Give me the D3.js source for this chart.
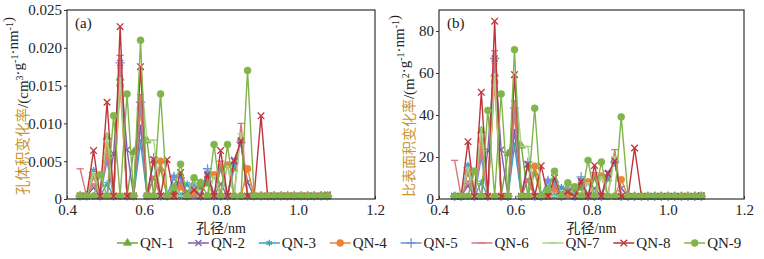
<!DOCTYPE html>
<html lang="en">
<head>
  <meta charset="utf-8" />
  <title>孔径分布</title>
  <script src="https://d3js.org/d3.v7.min.js"></script>
  <style>
    body { margin: 0; background: #fff; }
    text { font-family: "Liberation Serif", "Noto Sans CJK SC", serif; }
  </style>
</head>

<body>
  <div id="chart"></div>

  <script>
    // pore diameter (nm)
    var poreA = [0.434, 0.451, 0.469, 0.486, 0.504, 0.521, 0.538, 0.556, 0.573, 0.591,
                 0.608, 0.625, 0.643, 0.660, 0.678, 0.695, 0.712, 0.730, 0.747, 0.765,
                 0.782, 0.799, 0.817, 0.834, 0.852, 0.869, 0.886, 0.904, 0.921, 0.938,
                 0.956, 0.973, 0.990, 1.008, 1.025, 1.042, 1.060, 1.077];
    var poreB = [0.441, 0.458, 0.476, 0.493, 0.511, 0.528, 0.546, 0.563, 0.581, 0.598,
                 0.616, 0.633, 0.651, 0.668, 0.686, 0.703, 0.721, 0.738, 0.756, 0.773,
                 0.791, 0.808, 0.826, 0.843, 0.861, 0.878, 0.896, 0.913, 0.931, 0.948,
                 0.966, 0.983, 1.001, 1.018, 1.036, 1.053, 1.071, 1.088];

    var names = ["QN-1", "QN-2", "QN-3", "QN-4", "QN-5", "QN-6", "QN-7", "QN-8", "QN-9"];

    // (a) pore volume change rate, cm3/(g*nm)
    var qn1a = [0.0004, 0.0004, 0.0030, 0.0004, 0.0082, 0.0004, 0.0160, 0.0004, 0.0062, 0.0092,
                0.0077, 0.0004, 0.0040, 0.0004, 0.0010, 0.0020, 0.0004, 0.0020, 0.0015, 0.0020,
                0.0004, 0.0040, 0.0004, 0.0040, 0.0080, 0.0004, 0.0004, 0.0004, 0.0004, 0.0004,
                0.0004, 0.0004, 0.0004, 0.0004, 0.0004, 0.0004, 0.0004, 0.0004];
    var qn2a = [0.0004, 0.0004, 0.0015, 0.0004, 0.0004, 0.0060, 0.0180, 0.0065, 0.0004, 0.0097,
                0.0004, 0.0028, 0.0004, 0.0004, 0.0020, 0.0004, 0.0010, 0.0004, 0.0004, 0.0030,
                0.0004, 0.0020, 0.0004, 0.0052, 0.0073, 0.0022, 0.0004, 0.0004, 0.0004, 0.0004,
                0.0004, 0.0004, 0.0004, 0.0004, 0.0004, 0.0004, 0.0004, 0.0006];
    var qn3a = [0.0004, 0.0004, 0.0038, 0.0004, 0.0020, 0.0004, 0.0175, 0.0004, 0.0004, 0.0075,
                0.0004, 0.0050, 0.0004, 0.0004, 0.0030, 0.0004, 0.0020, 0.0004, 0.0004, 0.0035,
                0.0004, 0.0004, 0.0004, 0.0045, 0.0075, 0.0004, 0.0004, 0.0004, 0.0004, 0.0004,
                0.0004, 0.0004, 0.0004, 0.0004, 0.0004, 0.0004, 0.0004, 0.0004];
    var qn4a = [0.0004, 0.0004, 0.0030, 0.0004, 0.0070, 0.0004, 0.0150, 0.0004, 0.0004, 0.0120,
                0.0004, 0.0004, 0.0050, 0.0004, 0.0004, 0.0016, 0.0004, 0.0010, 0.0004, 0.0004,
                0.0032, 0.0004, 0.0045, 0.0004, 0.0004, 0.0040, 0.0004, 0.0004, 0.0004, 0.0004,
                0.0004, 0.0004, 0.0004, 0.0004, 0.0004, 0.0004, 0.0004, 0.0004];
    var qn5a = [0.0004, 0.0004, 0.0035, 0.0004, 0.0050, 0.0004, 0.0180, 0.0004, 0.0004, 0.0128,
                0.0004, 0.0055, 0.0004, 0.0004, 0.0030, 0.0028, 0.0004, 0.0020, 0.0004, 0.0040,
                0.0004, 0.0004, 0.0004, 0.0048, 0.0075, 0.0004, 0.0004, 0.0004, 0.0004, 0.0004,
                0.0004, 0.0004, 0.0004, 0.0004, 0.0004, 0.0004, 0.0004, 0.0004];
    var qn6a = [0.0040, 0.0004, 0.0020, 0.0004, 0.0060, 0.0004, 0.0190, 0.0004, 0.0004, 0.0138,
                0.0004, 0.0030, 0.0004, 0.0004, 0.0004, 0.0020, 0.0004, 0.0004, 0.0004, 0.0030,
                0.0004, 0.0050, 0.0004, 0.0004, 0.0100, 0.0004, 0.0004, 0.0004, 0.0004, 0.0004,
                0.0004, 0.0004, 0.0004, 0.0004, 0.0004, 0.0004, 0.0004, 0.0004];
    var qn7a = [0.0004, 0.0004, 0.0035, 0.0004, 0.0085, 0.0004, 0.0160, 0.0004, 0.0004, 0.0172,
                0.0076, 0.0078, 0.0004, 0.0004, 0.0020, 0.0004, 0.0004, 0.0025, 0.0004, 0.0004,
                0.0030, 0.0004, 0.0043, 0.0004, 0.0086, 0.0004, 0.0004, 0.0004, 0.0004, 0.0004,
                0.0004, 0.0004, 0.0004, 0.0004, 0.0004, 0.0004, 0.0004, 0.0004];
    var qn8a = [0.0004, 0.0004, 0.0064, 0.0004, 0.0128, 0.0004, 0.0228, 0.0004, 0.0004, 0.0175,
                0.0004, 0.0052, 0.0004, 0.0052, 0.0004, 0.0035, 0.0004, 0.0012, 0.0004, 0.0032,
                0.0004, 0.0064, 0.0004, 0.0050, 0.0077, 0.0004, 0.0004, 0.0110, 0.0004, 0.0004,
                0.0004, 0.0004, 0.0004, 0.0004, 0.0004, 0.0004, 0.0004, 0.0004];
    var qn9a = [0.0004, 0.0004, 0.0004, 0.0032, 0.0004, 0.0110, 0.0004, 0.0139, 0.0004, 0.0210,
                0.0004, 0.0004, 0.0139, 0.0004, 0.0015, 0.0046, 0.0004, 0.0028, 0.0022, 0.0004,
                0.0072, 0.0004, 0.0072, 0.0004, 0.0004, 0.0170, 0.0004, 0.0004, 0.0004, 0.0004,
                0.0004, 0.0004, 0.0004, 0.0004, 0.0004, 0.0004, 0.0004, 0.0004];

    // (b) specific surface area change rate, m2/(g*nm)
    var qn1b = [1.3, 1.3, 12.8, 1.3, 32.5, 1.3, 59.5, 1.3, 21.6, 31.1,
                25.3, 1.3, 12.4, 1.3, 3.0, 5.8, 1.3, 5.5, 4.0, 5.2,
                1.3, 10.0, 1.3, 9.6, 18.8, 1.3, 1.3, 1.3, 1.3, 1.3,
                1.3, 1.3, 1.3, 1.3, 1.3, 1.3, 1.3, 1.3];
    var qn2b = [1.3, 1.3, 6.4, 1.3, 1.3, 23.0, 66.9, 23.4, 1.3, 32.8,
                1.3, 9.0, 1.3, 1.3, 5.9, 1.3, 2.8, 1.3, 1.3, 7.8,
                1.3, 5.0, 1.3, 12.5, 17.1, 5.1, 1.3, 1.3, 1.3, 1.3,
                1.3, 1.3, 1.3, 1.3, 1.3, 1.3, 1.3, 1.8];
    var qn3b = [1.3, 1.3, 16.2, 1.3, 7.9, 1.3, 65.0, 1.3, 1.3, 25.4,
                1.3, 16.0, 1.3, 1.3, 8.9, 1.3, 5.6, 1.3, 1.3, 9.1,
                1.3, 1.3, 1.3, 10.8, 17.6, 1.3, 1.3, 1.3, 1.3, 1.3,
                1.3, 1.3, 1.3, 1.3, 1.3, 1.3, 1.3, 1.3];
    var qn4b = [1.3, 1.3, 12.8, 1.3, 27.8, 1.3, 55.8, 1.3, 1.3, 40.6,
                1.3, 1.3, 15.6, 1.3, 1.3, 4.6, 1.3, 2.7, 1.3, 1.3,
                8.2, 1.3, 11.0, 1.3, 1.3, 9.2, 1.3, 1.3, 1.3, 1.3,
                1.3, 1.3, 1.3, 1.3, 1.3, 1.3, 1.3, 1.3];
    var qn5b = [1.3, 1.3, 14.9, 1.3, 19.8, 1.3, 66.9, 1.3, 1.3, 43.3,
                1.3, 17.6, 1.3, 1.3, 8.9, 8.1, 1.3, 5.5, 1.3, 10.5,
                1.3, 1.3, 1.3, 11.5, 17.6, 1.3, 1.3, 1.3, 1.3, 1.3,
                1.3, 1.3, 1.3, 1.3, 1.3, 1.3, 1.3, 1.3];
    var qn6b = [18.4, 1.3, 8.5, 1.3, 23.8, 1.3, 70.6, 1.3, 1.3, 46.7,
                1.3, 9.6, 1.3, 1.3, 1.3, 5.8, 1.3, 1.3, 1.3, 7.8,
                1.3, 12.5, 1.3, 1.3, 23.5, 1.3, 1.3, 1.3, 1.3, 1.3,
                1.3, 1.3, 1.3, 1.3, 1.3, 1.3, 1.3, 1.3];
    var qn7b = [1.3, 1.3, 14.9, 1.3, 33.7, 1.3, 59.5, 1.3, 1.3, 58.2,
                25.0, 25.0, 1.3, 1.3, 5.9, 1.3, 1.3, 6.9, 1.3, 1.3,
                7.7, 1.3, 10.5, 1.3, 20.2, 1.3, 1.3, 1.3, 1.3, 1.3,
                1.3, 1.3, 1.3, 1.3, 1.3, 1.3, 1.3, 1.3];
    var qn8b = [1.3, 1.3, 27.3, 1.3, 50.8, 1.3, 84.7, 1.3, 1.3, 59.2,
                1.3, 16.6, 1.3, 15.8, 1.3, 10.1, 1.3, 3.3, 1.3, 8.4,
                1.3, 16.0, 1.3, 12.0, 18.1, 1.3, 1.3, 24.3, 1.3, 1.3,
                1.3, 1.3, 1.3, 1.3, 1.3, 1.3, 1.3, 1.3];
    var qn9b = [1.3, 1.3, 1.3, 13.2, 1.3, 42.2, 1.3, 50.0, 1.3, 71.1,
                1.3, 1.3, 43.2, 1.3, 4.4, 13.2, 1.3, 7.7, 5.9, 1.3,
                18.4, 1.3, 17.6, 1.3, 1.3, 39.1, 1.3, 1.3, 1.3, 1.3,
                1.3, 1.3, 1.3, 1.3, 1.3, 1.3, 1.3, 1.3];

    var xTicks = [0.4, 0.6, 0.8, 1.0, 1.2];
    var yTicksA = [0, 0.005, 0.010, 0.015, 0.020, 0.025];
    var yTicksB = [0, 20, 40, 60, 80];

    var seriesA = [qn1a, qn2a, qn3a, qn4a, qn5a, qn6a, qn7a, qn8a, qn9a];
    var seriesB = [qn1b, qn2b, qn3b, qn4b, qn5b, qn6b, qn7b, qn8b, qn9b];

    var colors = ["#6fa83e", "#7e63aa", "#3f9fc2", "#ec8435", "#6f93dc",
                  "#d9777c", "#a9d28b", "#bf3438", "#80b54a"];

    // short horizontal dash used by QN-6 / QN-7
    var symbolDash = {
      draw: function(ctx, size) {
        var r = Math.sqrt(size) / 2 + 1;
        ctx.moveTo(-r, 0);
        ctx.lineTo(r, 0);
      }
    };
    var shapes = [d3.symbolTriangle, d3.symbolX, d3.symbolAsterisk, d3.symbolCircle, d3.symbolPlus,
                  symbolDash, symbolDash, d3.symbolX, d3.symbolCircle];
    var sizes = [28, 26, 30, 38, 30, 26, 26, 30, 38];
    var filled = [true, false, false, true, false, false, false, false, true];

    var W = 764, H = 259;
    var svg = d3.select("#chart")
                .append("svg")
                .attr("width", W)
                .attr("height", H);

    function addMarker(sel, k) {
      sel.attr("d", d3.symbol().type(shapes[k]).size(sizes[k])())
         .attr("fill", filled[k] ? colors[k] : "none")
         .attr("stroke", colors[k])
         .attr("stroke-width", filled[k] ? 0.6 : 1.3);
    }

    function styleAxis(a) {
      a.select(".domain").remove();
      a.selectAll("text").attr("font-size", 15).attr("fill", "#222")
       .attr("font-family", "Liberation Serif");
      a.selectAll("line").attr("stroke", "#333");
    }

    function drawPanel(opt) {
      var x = d3.scaleLinear().domain([0.4, 1.2]).range([opt.left, opt.right]);
      var y = d3.scaleLinear().domain(opt.yDomain).range([199, 10]);
      var g = svg.append("g");

      // x axis, ticks pointing inwards
      g.append("g")
       .attr("transform", "translate(0,199)")
       .call(d3.axisBottom(x).tickValues(xTicks).tickSize(-3).tickPadding(5)
               .tickFormat(d3.format(".1f")))
       .call(styleAxis);

      // y axis
      g.append("g")
       .attr("transform", "translate(" + opt.left + ",0)")
       .call(d3.axisLeft(y).tickValues(opt.yTicks).tickSize(3).tickPadding(2)
               .tickFormat(opt.fmt))
       .call(styleAxis);

      var line = d3.line()
                   .x(function(d, i) { return x(opt.pore[i]); })
                   .y(function(d) { return y(d); });

      opt.series.forEach(function(vals, k) {
        g.append("path")
         .attr("d", line(vals))
         .attr("fill", "none")
         .attr("stroke", colors[k])
         .attr("stroke-width", 1.4)
         .attr("stroke-linejoin", "round");

        g.selectAll(".m" + k)
         .data(vals)
         .enter()
         .append("path")
         .attr("class", "m" + k)
         .attr("transform", function(d, i) {
           return "translate(" + x(opt.pore[i]) + "," + y(d) + ")";
         })
         .call(addMarker, k);
      });

      // frame
      g.append("rect")
       .attr("x", opt.left).attr("y", 10)
       .attr("width", opt.right - opt.left).attr("height", 189)
       .attr("fill", "none")
       .attr("stroke", "#333")
       .attr("stroke-width", 1.2);

      g.append("text")
       .attr("x", opt.left + 8).attr("y", 28)
       .attr("font-size", 15).attr("fill", "#222")
       .text(opt.tag);

      g.append("text")
       .attr("x", (opt.left + opt.right) / 2).attr("y", 233)
       .attr("text-anchor", "middle")
       .attr("font-size", 14).attr("fill", "#222")
       .text("孔径/nm");

      // rotated y title with superscripts
      var t = g.append("text")
               .attr("transform", "translate(" + opt.titleX + ",106) rotate(-90)")
               .attr("text-anchor", "middle")
               .attr("font-size", 15)
               .attr("fill", "#222");
      t.append("tspan").attr("fill", "#c8952f").attr("font-size", opt.cjkSize).text(opt.title);
      opt.unit.forEach(function(u) {
        if (u.sup) {
          t.append("tspan").attr("dy", -5).attr("font-size", 10).text(u.s);
          t.append("tspan").attr("dy", 5).text("");
        } else {
          t.append("tspan").text(u.s);
        }
      });
    }

    drawPanel({
      left: 67, right: 375, yDomain: [0, 0.025], yTicks: yTicksA,
      fmt: function(d) { return d === 0 ? "0" : d3.format(".3f")(d); },
      pore: poreA, series: seriesA, tag: "(a)", titleX: 28, cjkSize: 14.5,
      title: "孔体积变化率",
      unit: [{s: "/(cm"}, {s: "3", sup: true}, {s: "·g"}, {s: "-1", sup: true},
             {s: "·nm"}, {s: "-1", sup: true}, {s: ")"}]
    });

    drawPanel({
      left: 439, right: 744, yDomain: [0, 90], yTicks: yTicksB,
      fmt: d3.format("d"),
      pore: poreB, series: seriesB, tag: "(b)", titleX: 414, cjkSize: 14,
      title: "比表面积变化率",
      unit: [{s: "/(m"}, {s: "2", sup: true}, {s: "·g"}, {s: "-1", sup: true},
             {s: "·nm"}, {s: "-1", sup: true}, {s: ")"}]
    });

    // legend
    var legend = svg.append("g").attr("transform", "translate(117,243)");
    names.forEach(function(n, k) {
      var item = legend.append("g").attr("transform", "translate(" + (k * 70.9) + ",0)");
      item.append("line")
          .attr("x1", 0).attr("x2", 21)
          .attr("stroke", colors[k]).attr("stroke-width", 1.5);
      item.append("path")
          .attr("transform", "translate(10.5,0)")
          .call(addMarker, k);
      item.append("text")
          .attr("x", 23).attr("y", 5)
          .attr("font-size", 15).attr("fill", "#222")
          .text(n);
    });
  </script>
</body>
</html>
